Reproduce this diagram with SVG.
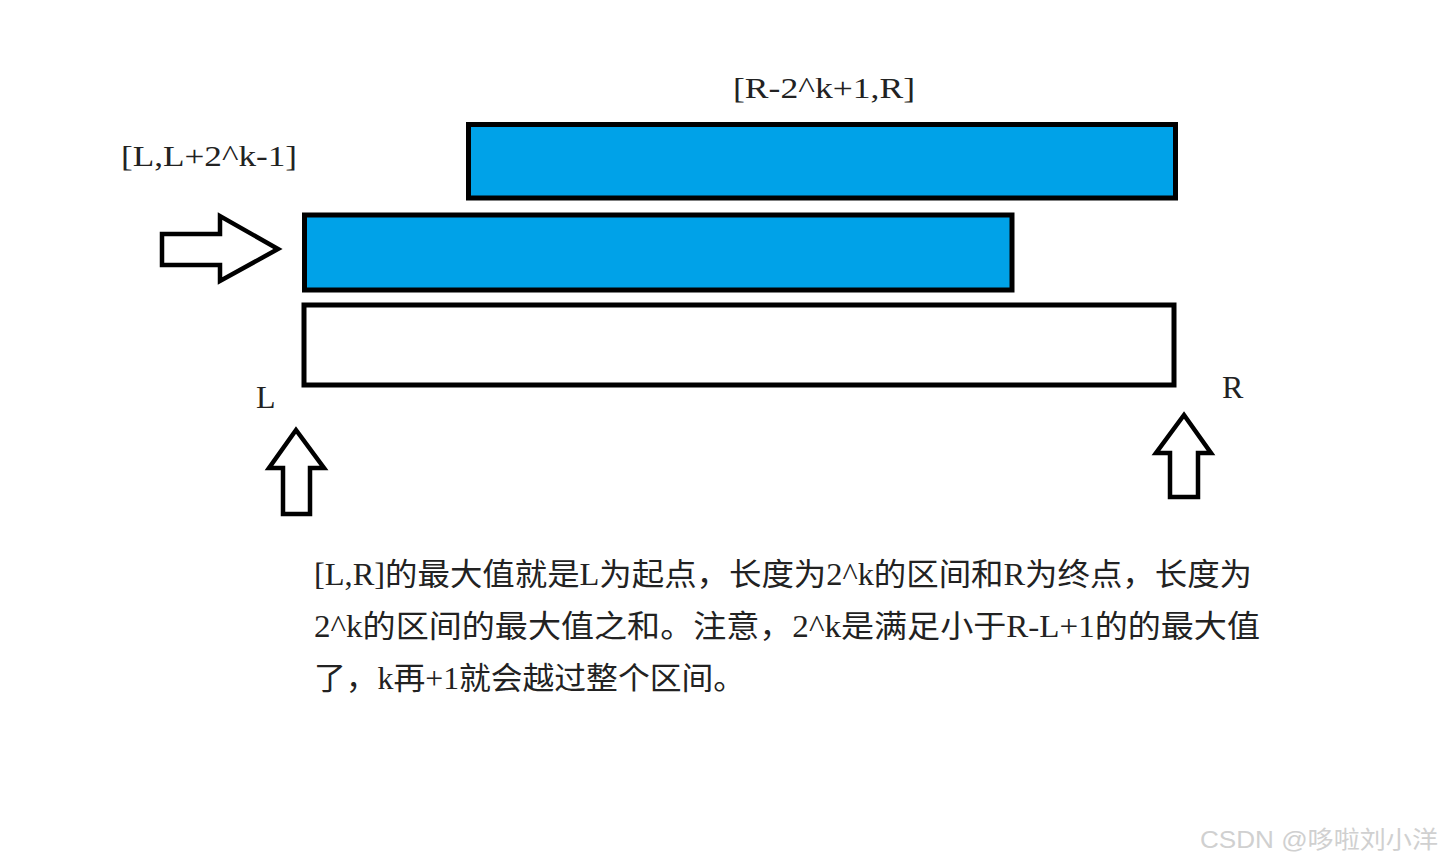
<svg xmlns="http://www.w3.org/2000/svg" width="1444" height="865" viewBox="0 0 1444 865">
<style>
.bar{stroke:#000;stroke-width:5}
.blue{fill:#00A2E8}
.white{fill:#fff}
.arrow{fill:#fff;stroke:#000;stroke-width:4.5;stroke-linejoin:miter}
.lbl{font-family:"Liberation Serif","DejaVu Serif",serif;font-size:29px;fill:#222}
.end{font-size:32px}
.para{font-family:"Liberation Serif","Noto Sans CJK SC",serif;font-size:31px;fill:#222}
.wm{font-family:"Liberation Sans","Noto Sans CJK SC",sans-serif;font-size:24px;fill:#d0d0d0}
</style>
<rect width="1444" height="865" fill="#fff"/>
<g id="bar-right">
<rect class="bar blue" x="468.5" y="124.5" width="707" height="73.5"/>
<text class="lbl" x="733" y="98" textLength="182" lengthAdjust="spacingAndGlyphs">[R-2^k+1,R]</text>
</g>
<g id="bar-left">
<rect class="bar blue" x="304.5" y="215" width="707.5" height="75"/>
<text class="lbl" x="121" y="166" textLength="176" lengthAdjust="spacingAndGlyphs">[L,L+2^k-1]</text>
</g>
<g id="bar-full">
<rect class="bar white" x="304" y="305" width="870" height="80"/>
<text class="lbl end" x="256" y="408">L</text>
<text class="lbl end" x="1222" y="398">R</text>
</g>
<g id="connectors">
<polygon id="arrow-right" class="arrow" points="162,234 220,234 220,216 278,249 220,281 220,265 162,265"/>
<polygon id="arrow-up-L" class="arrow" points="296,430 324,468 310,468 310,514 283,514 283,468 269,468"/>
<polygon id="arrow-up-R" class="arrow" points="1184,415 1211,453 1198,453 1198,497 1170,497 1170,453 1156,453"/>
</g>
<g id="note">
<text class="para" x="314" y="585" textLength="938" lengthAdjust="spacingAndGlyphs">[L,R]的最大值就是L为起点，长度为2^k的区间和R为终点，长度为</text>
<text class="para" x="314" y="637" textLength="946" lengthAdjust="spacingAndGlyphs">2^k的区间的最大值之和。注意，2^k是满足小于R-L+1的的最大值</text>
<text class="para" x="314" y="689" textLength="431" lengthAdjust="spacingAndGlyphs">了，k再+1就会越过整个区间。</text>
</g>
<text class="wm" x="1200" y="848" textLength="238" lengthAdjust="spacingAndGlyphs">CSDN @哆啦刘小洋</text>
</svg>
